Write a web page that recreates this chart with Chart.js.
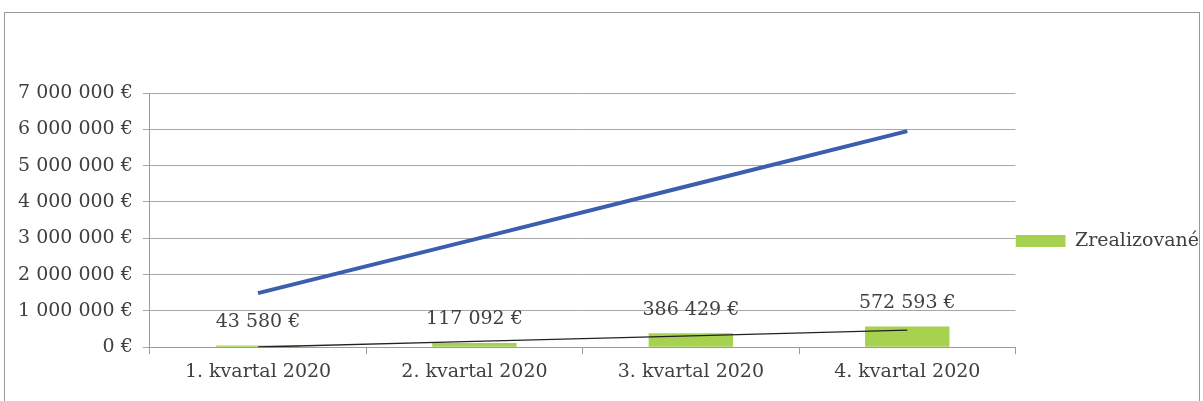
<!DOCTYPE html>
<html>
<head>
<meta charset="utf-8">
<script src="https://cdn.jsdelivr.net/npm/chart.js@4.4.1/dist/chart.umd.min.js"></script>
<style>
  html, body { margin: 0; padding: 0; background: #fff; }
  #wrap { width: 1203px; height: 401px; }
</style>
</head>
<body>
<div id="wrap"><canvas id="quarterChart" width="1203" height="401"></canvas></div>
<script>
const categories = ["1. kvartal 2020", "2. kvartal 2020", "3. kvartal 2020", "4. kvartal 2020"];
const realizedValues = [43580, 117092, 386429, 572593];
const plannedValues = [1490000, 2970000, 4460000, 5950000];
const trendValues = [5000, 160000, 310000, 470000];
const yTicks = [0, 1000000, 2000000, 3000000, 4000000, 5000000, 6000000, 7000000];

const fontFamily = "'DejaVu Serif', serif";
const textColor = "#404040";

function euro(v) {
  return String(Math.round(v)).replace(/\B(?=(\d{3})+(?!\d))/g, " ") + " €";
}

// frame round the whole chart
const framePlugin = {
  id: "frame",
  beforeDraw(chart) {
    const ctx = chart.ctx;
    ctx.save();
    ctx.fillStyle = "#fff";
    ctx.fillRect(0, 0, chart.width, chart.height);
    ctx.strokeStyle = "#9a9a9a";
    ctx.lineWidth = 1;
    ctx.strokeRect(4.5, 12.5, chart.width - 8, chart.height + 10);
    ctx.restore();
  },
};

// value labels above the bars
const barLabels = {
  id: "barLabels",
  afterDatasetsDraw(chart) {
    const ctx = chart.ctx;
    const meta = chart.getDatasetMeta(0);
    ctx.save();
    ctx.font = "19px " + fontFamily;
    ctx.fillStyle = textColor;
    ctx.textAlign = "center";
    ctx.textBaseline = "bottom";
    meta.data.forEach((bar, i) => {
      ctx.fillText(euro(realizedValues[i]), bar.x, bar.y - 14);
    });
    ctx.restore();
  },
};

const ctx = document.getElementById("quarterChart").getContext("2d");
const quarterChart = new Chart(ctx, {
  type: "bar",
  data: {
    labels: categories,
    datasets: [
      {
        type: "bar",
        label: "Zrealizované",
        data: realizedValues,
        backgroundColor: "#a6d24f",
        categoryPercentage: 1,
        barPercentage: 0.39,
        order: 3,
      },
      {
        type: "line",
        label: "Plán",
        data: plannedValues,
        borderColor: "#3b5fae",
        borderWidth: 4,
        pointRadius: 0,
        fill: false,
        order: 1,
      },
      {
        type: "line",
        label: "Trend",
        data: trendValues,
        borderColor: "#222",
        borderWidth: 1.3,
        pointRadius: 0,
        fill: false,
        order: 2,
      },
    ],
  },
  options: {
    responsive: false,
    animation: false,
    layout: { padding: { top: 93, left: 8, right: -6, bottom: 12 } },
    plugins: {
      tooltip: { enabled: false },
      legend: {
        position: "right",
        labels: {
          filter: (item) => item.text === "Zrealizované",
          boxWidth: 50,
          boxHeight: 12,
          padding: 0,
          color: textColor,
          font: { family: fontFamily, size: 19 },
        },
      },
    },
    scales: {
      x: {
        grid: {
          display: true,
          drawOnChartArea: false,
          drawTicks: true,
          tickLength: 7,
          color: "#9a9a9a",
          offset: true,
        },
        border: { display: true, color: "#9a9a9a" },
        ticks: {
          color: textColor,
          font: { family: fontFamily, size: 19 },
          padding: 6,
          maxRotation: 0,
        },
      },
      y: {
        min: 0,
        max: 7000000,
        afterBuildTicks: (axis) => {
          axis.ticks = yTicks.map((v) => ({ value: v }));
        },
        grid: {
          color: "#a8a8a8",
          tickLength: 7,
        },
        border: { display: true, color: "#9a9a9a" },
        ticks: {
          color: textColor,
          font: { family: fontFamily, size: 19 },
          padding: 10,
          callback: (v) => euro(v),
        },
      },
    },
  },
  plugins: [framePlugin, barLabels],
});
</script>
</body>
</html>
